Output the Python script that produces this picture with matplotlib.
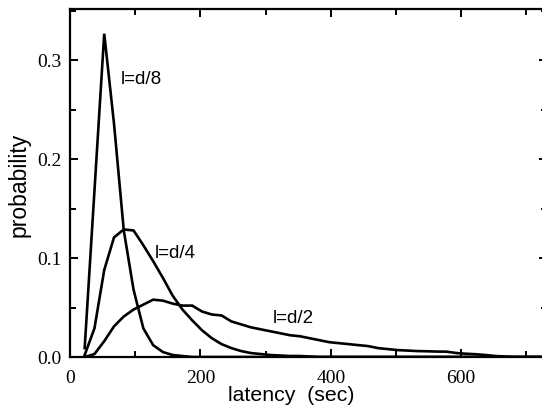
import matplotlib
matplotlib.use('Agg')
import matplotlib.pyplot as plt
from matplotlib.ticker import MultipleLocator

# data: latency bins (sec) and probability for three values of l
latency = [22.5, 37.5, 52.5, 67.5, 82.5, 97.5, 112.5, 127.5, 142.5, 157.5,
           172.5, 187.5, 202.5, 217.5, 232.5, 247.5, 262.5, 277.5, 292.5, 307.5,
           322.5, 337.5, 352.5, 367.5, 382.5, 397.5, 412.5, 427.5, 442.5, 457.5,
           472.5, 487.5, 502.5, 517.5, 532.5, 547.5, 562.5, 577.5, 592.5, 607.5,
           622.5, 637.5, 652.5, 667.5, 682.5, 697.5, 712.5, 727.5, 742.5]

prob_d8 = [0.009, 0.168, 0.327, 0.236, 0.128, 0.068, 0.029, 0.012, 0.005, 0.002,
           0.001, 0.0, 0.0, 0.0, 0.0, 0.0, 0.0, 0.0, 0.0, 0.0,
           0.0, 0.0, 0.0, 0.0, 0.0, 0.0, 0.0, 0.0, 0.0, 0.0,
           0.0, 0.0, 0.0, 0.0, 0.0, 0.0, 0.0, 0.0, 0.0, 0.0,
           0.0, 0.0, 0.0, 0.0, 0.0, 0.0, 0.0, 0.0, 0.0]

prob_d4 = [0.002, 0.029, 0.088, 0.121, 0.129, 0.128, 0.113, 0.097, 0.080, 0.062,
           0.048, 0.037, 0.027, 0.019, 0.013, 0.009, 0.006, 0.004, 0.003, 0.002,
           0.0015, 0.001, 0.001, 0.0005, 0.0, 0.0, 0.0, 0.0, 0.0, 0.0,
           0.0, 0.0, 0.0, 0.0, 0.0, 0.0, 0.0, 0.0, 0.0, 0.0,
           0.0, 0.0, 0.0, 0.0, 0.0, 0.0, 0.0, 0.0, 0.0]

prob_d2 = [0.0, 0.003, 0.016, 0.031, 0.041, 0.048, 0.053, 0.058, 0.057, 0.054,
           0.052, 0.052, 0.046, 0.043, 0.042, 0.036, 0.033, 0.030, 0.028, 0.026,
           0.024, 0.022, 0.021, 0.019, 0.017, 0.015, 0.014, 0.013, 0.012, 0.011,
           0.009, 0.008, 0.007, 0.0065, 0.006, 0.0058, 0.0055, 0.0054, 0.004, 0.0033,
           0.0028, 0.002, 0.001, 0.0005, 0.0, 0.0, 0.0, 0.0, 0.0]

fig = plt.figure(figsize=(5.42, 4.11), dpi=100)
# axes box runs past the right edge, as in the original (only tick stubs show)
ax = fig.add_axes([70 / 542, 54 / 411, 477 / 542, 348 / 411])

for p in (prob_d8, prob_d4, prob_d2):
    ax.plot(latency, p, color='black', linewidth=1.9, solid_joinstyle='miter')

ax.set_xlim(0, 477 / 0.652)
ax.set_ylim(0, 0.352)

ax.xaxis.set_major_locator(MultipleLocator(200))
ax.xaxis.set_minor_locator(MultipleLocator(100))
ax.yaxis.set_major_locator(MultipleLocator(0.1))
ax.yaxis.set_minor_locator(MultipleLocator(0.05))
ax.yaxis.set_major_formatter(lambda v, pos: f'{v:.1f}')

ax.tick_params(which='both', direction='in', top=True, right=True, width=1.4)
ax.tick_params(which='major', length=6)
ax.tick_params(which='minor', length=4)
ax.tick_params(axis='x', pad=9)
ax.tick_params(axis='y', pad=6)
for lab in ax.get_xticklabels() + ax.get_yticklabels():
    lab.set_family('Liberation Serif')
    lab.set_fontsize(14)

for s in ax.spines.values():
    s.set_linewidth(1.6)
# right spine lies outside the picture in the original
ax.spines['right'].set_visible(False)

sans = 'Liberation Sans'
ax.set_xlabel('latency  (sec)', family=sans, fontsize=15.3)
ax.xaxis.set_label_coords((291.5 - 70) / 477, (357 - 386) / 348)
ax.set_ylabel('probability', family=sans, fontsize=16.5)
ax.yaxis.set_label_coords((19 - 70) / 477, (357 - 185) / 348)
ax.yaxis.label.set_va('center')

ax.text(78, 0.281, 'l=d/8', family=sans, fontsize=13.5, va='center')
ax.text(130, 0.105, 'l=d/4', family=sans, fontsize=13.5, va='center')
ax.text(311, 0.039, 'l=d/2', family=sans, fontsize=13.5, va='center')

fig.savefig('out.png', dpi=100)
